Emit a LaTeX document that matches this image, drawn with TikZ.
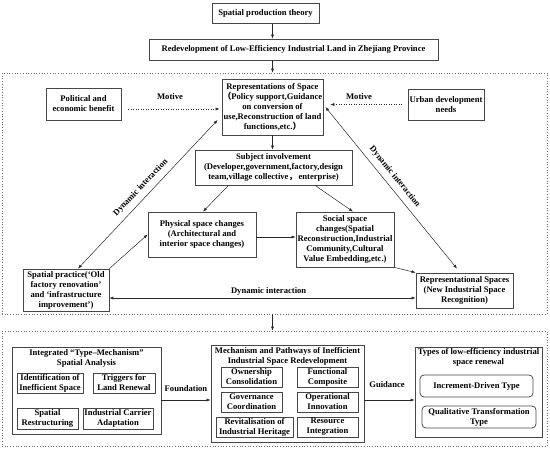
\documentclass[tikz,border=0pt]{standalone}
\usepackage{fontspec}
\setmainfont{Liberation Serif}
\newfontfamily\cjkf{Noto Sans CJK SC}
\usetikzlibrary{arrows.meta}
\definecolor{boxc}{RGB}{70,70,70}
\definecolor{arrc}{RGB}{40,40,40}
\definecolor{framec}{RGB}{110,110,110}
\begin{document}
\begin{tikzpicture}[x=1pt,y=-1pt,
  font=\fontsize{8.6}{10}\selectfont\bfseries,
  box/.style={draw=boxc, line width=0.75pt, align=center, inner sep=0pt},
  rbox/.style={box, rounded corners=4pt},
  lbl/.style={align=center, inner sep=1.5pt},
  arr/.style={-{Latex[length=4pt,width=3pt]}, line width=0.5pt, draw=arrc},
  darr/.style={{Latex[length=4pt,width=3pt]}-{Latex[length=4pt,width=3pt]}, line width=0.5pt, draw=arrc},
  motive/.style={arr, dotted},
  frame/.style={draw=framec, dotted, line width=0.7pt, inner sep=0pt}
]
\useasboundingbox (0,0) rectangle (550,449);
% frames
\node[frame, minimum width=545, minimum height=241] (f1) at (274.5,193.5) {};
\node[frame, minimum width=545, minimum height=115] (f2) at (274.5,388.5) {};
% top
\node[box, minimum width=107, minimum height=20] (theory) at (265.5,13.5) {Spatial production theory};
\node[box, minimum width=289, minimum height=21] (redev) at (293.5,49.5) {Redevelopment of Low-Efficiency Industrial Land in Zhejiang Province};
% upper frame
\node[box, minimum width=75, minimum height=32] (pol) at (83.5,104) {Political and\\economic benefit};
\node[box, minimum width=101, minimum height=56] (rep) at (272.5,107) {Representations of Space\\{\cjkf （}Policy support,Guidance\\on conversion of\\use,Reconstruction of land\\functions,etc.{\cjkf ）}};
\node[box, minimum width=76, minimum height=31] (urb) at (446,104.5) {Urban development\\needs};
\node[lbl] (m1) at (170,97) {Motive};
\node[lbl] (m2) at (359,97) {Motive};
\node[box, minimum width=157, minimum height=35] (subj) at (273.5,167.5) {Subject involvement\\(Developer,government,factory,design\\team,village collective{\cjkf ，}\,enterprise)};
\node[box, minimum width=108, minimum height=45] (phys) at (202,234.5) {Physical space changes\\(Architectural and\\interior space changes)};
\node[box, minimum width=98, minimum height=55] (soc) at (345,239.5) {Social space\\changes(Spatial\\Reconstruction,Industrial\\Community,Cultural\\Value Embedding,etc.)};
\node[box, minimum width=86, minimum height=42] (sp) at (66,290) {Spatial practice(‘Old\\factory renovation’\\and ‘infrastructure\\improvement’)};
\node[box, minimum width=97, minimum height=35] (rsp) at (464.5,290.5) {Representational Spaces\\(New Industrial Space\\Recognition)};
% lower frame
\node[box, minimum width=149, minimum height=87] (integ) at (86.5,390.5) {};
\node[lbl] (integt) at (86.5,358.5) {Integrated “Type–Mechanism”\\Spatial Analysis};
\node[box, minimum width=66, minimum height=20] (idn) at (50,383) {Identification of\\Inefficient Space};
\node[box, minimum width=62, minimum height=20] (trig) at (124,383) {Triggers for\\Land Renewal};
\node[box, minimum width=61, minimum height=21] (sres) at (47.5,418.5) {Spatial\\Restructuring};
\node[box, minimum width=70, minimum height=21] (ica) at (118,418.5) {Industrial Carrier\\Adaptation};
\node[box, minimum width=153, minimum height=97] (mech) at (287.5,393.5) {};
\node[lbl] (mecht) at (287.5,356) {Mechanism and Pathways of Inefficient\\Industrial Space Redevelopment};
\node[box, minimum width=61, minimum height=20] (own) at (251.5,377) {Ownership\\Consolidation};
\node[box, minimum width=61, minimum height=20] (fun) at (327.5,377) {Functional\\Composite};
\node[box, minimum width=61, minimum height=20] (gov) at (251.5,402) {Governance\\Coordination};
\node[box, minimum width=61, minimum height=20] (ope) at (327.5,402) {Operational\\Innovation};
\node[box, minimum width=77, minimum height=20] (rev) at (254.5,427) {Revitalisation of\\Industrial Heritage};
\node[box, minimum width=61, minimum height=20] (res) at (327.5,427) {Resource\\Integration};
\node[box, minimum width=127, minimum height=90] (types) at (478.5,392) {};
\node[lbl] (typest) at (478.5,357.5) {Types of low-efficiency industrial\\space renewal};
\node[rbox, minimum width=113, minimum height=22] (inc) at (476.5,386) {Increment-Driven Type};
\node[rbox, minimum width=114, minimum height=22] (qual) at (479,417) {Qualitative Transformation\\Type};
\node[lbl] (found) at (186,389) {Foundation};
\node[lbl] (guid) at (387,385) {Guidance};
% connectors
\draw[arr] (theory.south -| rep.north) -- (redev.north -| rep.north);
\draw[arr] (redev.south -| rep.north) -- (f1.north -| rep.north);
\draw[arr] (f1.south -| rep.north) -- (f2.north -| rep.north);
\draw[arr] (rep.south) -- (rep.south |- subj.north);
\draw[motive, shorten >=2pt] ([xshift=7pt,yshift=-5pt]pol.east) -- ([yshift=-5pt]pol.east -| rep.west);
\draw[motive, shorten >=7pt] ([xshift=-6pt]urb.west) -- (urb.west -| rep.east);
\draw[darr] ([xshift=12pt]sp.north) -- ([xshift=-4pt,yshift=-13pt]rep.west)
  node[lbl, sloped, above=4pt, pos=0.5] (dl) {Dynamic interaction};
\draw[darr] ([xshift=2pt]rep.east) -- ([xshift=-7.5pt,yshift=4pt]rsp.north)
  node[lbl, sloped, above=4pt, pos=0.47] (dr) {Dynamic interaction};
\draw[arr] ([xshift=-45pt]subj.south) -- ([xshift=1pt]phys.north);
\draw[arr] ([xshift=41.5pt]subj.south) -- ([xshift=8pt]soc.north);
\draw[arr] ([yshift=-2.5pt]phys.east) -- ([yshift=-2.5pt]phys.east -| soc.west);
\draw[arr] (sp.north east) -- (phys.west);
\draw[arr] (soc.south east) -- (rsp.north west);
\draw[darr] ([yshift=-8pt]sp.east) -- ([yshift=-8pt]sp.east -| rsp.west)
  node[lbl, above=1pt, pos=0.52] (db) {Dynamic interaction};
\draw[arr] ([yshift=-9.5pt]integ.east) -- ([yshift=-9.5pt]integ.east -| mech.west);
\draw[arr] ([yshift=-6.5pt]mech.east) -- ([yshift=-6.5pt]mech.east -| types.west);
\end{tikzpicture}
\end{document}
